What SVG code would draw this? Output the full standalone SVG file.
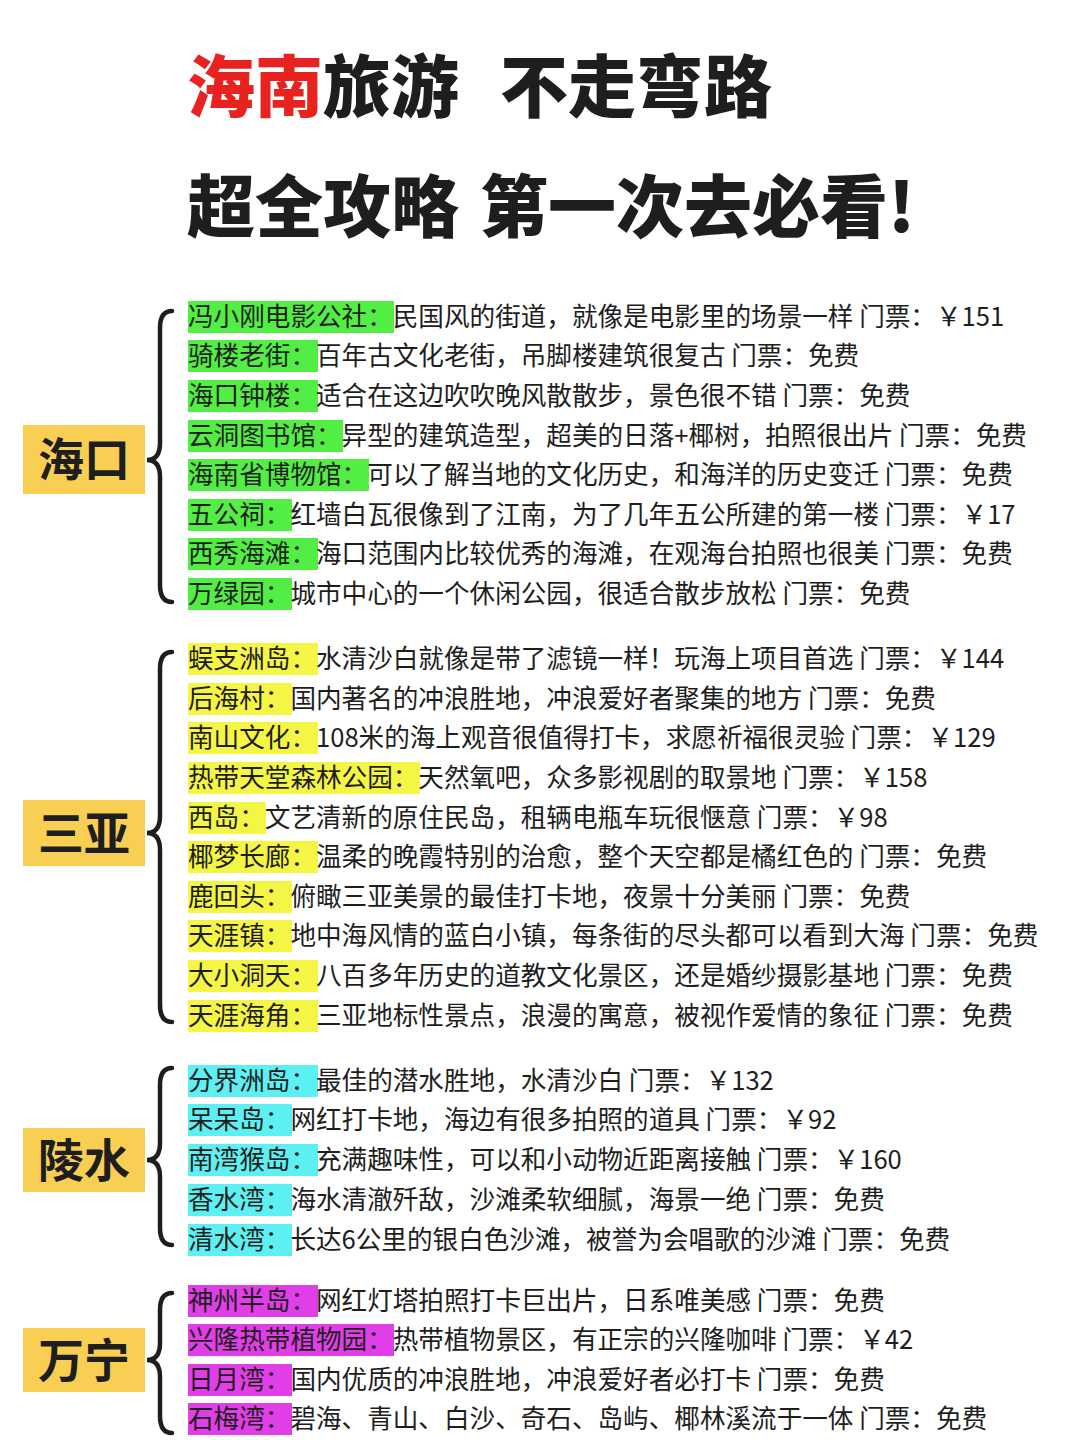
<svg xmlns="http://www.w3.org/2000/svg" width="1080" height="1440" viewBox="0 0 1080 1440">
<style>
text{font-family:"Noto Sans CJK SC","Noto Sans",sans-serif;fill:#1e1e1e}
.t{font-size:68px;font-weight:900}
.r{font-size:25.6px}
.g{fill:#52ee44}.y{fill:#f5f545}.c{fill:#5cf0f2}.m{fill:#e03ee6}
.lb{fill:#f8cf52}
.city{font-size:46px;font-weight:700}
.br{fill:none;stroke:#1e1e1e;stroke-width:4.5;stroke-linecap:round}
</style>
<rect width="1080" height="1440" fill="#fff"/>
<g id="title">
<text class="t" x="187" y="112"><tspan fill="#e8231f">海南</tspan>旅游</text>
<text class="t" x="500" y="112">不走弯路</text>
<text class="t" x="187" y="232">超全攻略</text>
<text class="t" x="480" y="232">第一次去必看!</text>
</g>
<g id="connectors">
<path class="br" d="M172 311 Q160 311 160 328 L160 443 Q160 460 147 460 Q160 460 160 477 L160 585 Q160 602 172 602"/>
<path class="br" d="M172 652 Q160 652 160 669 L160 816 Q160 833 147 833 Q160 833 160 850 L160 1005 Q160 1022 172 1022"/>
<path class="br" d="M172 1068 Q160 1068 160 1085 L160 1143 Q160 1160 147 1160 Q160 1160 160 1177 L160 1228 Q160 1245 172 1245"/>
<path class="br" d="M172 1293 Q160 1293 160 1310 L160 1343 Q160 1360 147 1360 Q160 1360 160 1377 L160 1416 Q160 1433 172 1433"/>
</g>
<g id="haikou">
<rect class="lb" x="23" y="425" width="122" height="69"/><text class="city" x="84" y="476" text-anchor="middle">海口</text>
<rect class="g" x="188" y="301" width="206" height="32"/><text class="r" x="188" y="326">冯小刚电影公社：民国风的街道，就像是电影里的场景一样 门票：￥151</text>
<rect class="g" x="188" y="340" width="130" height="32"/><text class="r" x="188" y="365">骑楼老街：百年古文化老街，吊脚楼建筑很复古 门票：免费</text>
<rect class="g" x="188" y="380" width="130" height="32"/><text class="r" x="188" y="405">海口钟楼：适合在这边吹吹晚风散散步，景色很不错 门票：免费</text>
<rect class="g" x="188" y="420" width="155" height="32"/><text class="r" x="188" y="445">云洞图书馆：异型的建筑造型，超美的日落+椰树，拍照很出片 门票：免费</text>
<rect class="g" x="188" y="459" width="181" height="32"/><text class="r" x="188" y="484">海南省博物馆：可以了解当地的文化历史，和海洋的历史变迁 门票：免费</text>
<rect class="g" x="188" y="499" width="104" height="32"/><text class="r" x="188" y="524">五公祠：红墙白瓦很像到了江南，为了几年五公所建的第一楼 门票：￥17</text>
<rect class="g" x="188" y="538" width="130" height="32"/><text class="r" x="188" y="563">西秀海滩：海口范围内比较优秀的海滩，在观海台拍照也很美 门票：免费</text>
<rect class="g" x="188" y="578" width="104" height="32"/><text class="r" x="188" y="603">万绿园：城市中心的一个休闲公园，很适合散步放松 门票：免费</text>
</g>
<g id="sanya">
<rect class="lb" x="23" y="800" width="122" height="66"/><text class="city" x="84" y="850" text-anchor="middle">三亚</text>
<rect class="y" x="188" y="643" width="130" height="32"/><text class="r" x="188" y="668">蜈支洲岛：水清沙白就像是带了滤镜一样！玩海上项目首选  门票：￥144</text>
<rect class="y" x="188" y="683" width="104" height="32"/><text class="r" x="188" y="708">后海村：国内著名的冲浪胜地，冲浪爱好者聚集的地方 门票：免费</text>
<rect class="y" x="188" y="722" width="130" height="32"/><text class="r" x="188" y="747">南山文化：108米的海上观音很值得打卡，求愿祈福很灵验 门票：￥129</text>
<rect class="y" x="188" y="762" width="232" height="32"/><text class="r" x="188" y="787">热带天堂森林公园：天然氧吧，众多影视剧的取景地 门票：￥158</text>
<rect class="y" x="188" y="802" width="78" height="32"/><text class="r" x="188" y="827">西岛：文艺清新的原住民岛，租辆电瓶车玩很惬意 门票：￥98</text>
<rect class="y" x="188" y="841" width="130" height="32"/><text class="r" x="188" y="866">椰梦长廊：温柔的晚霞特别的治愈，整个天空都是橘红色的 门票：免费</text>
<rect class="y" x="188" y="881" width="104" height="32"/><text class="r" x="188" y="906">鹿回头：俯瞰三亚美景的最佳打卡地，夜景十分美丽 门票：免费</text>
<rect class="y" x="188" y="920" width="104" height="32"/><text class="r" x="188" y="945">天涯镇：地中海风情的蓝白小镇，每条街的尽头都可以看到大海 门票：免费</text>
<rect class="y" x="188" y="960" width="130" height="32"/><text class="r" x="188" y="985">大小洞天：八百多年历史的道教文化景区，还是婚纱摄影基地 门票：免费</text>
<rect class="y" x="188" y="1000" width="130" height="32"/><text class="r" x="188" y="1025">天涯海角：三亚地标性景点，浪漫的寓意，被视作爱情的象征 门票：免费</text>
</g>
<g id="lingshui">
<rect class="lb" x="23" y="1128" width="122" height="64"/><text class="city" x="84" y="1177" text-anchor="middle">陵水</text>
<rect class="c" x="188" y="1065" width="130" height="32"/><text class="r" x="188" y="1090">分界洲岛：最佳的潜水胜地，水清沙白 门票：￥132</text>
<rect class="c" x="188" y="1104" width="104" height="32"/><text class="r" x="188" y="1129">呆呆岛：网红打卡地，海边有很多拍照的道具  门票：￥92</text>
<rect class="c" x="188" y="1144" width="130" height="32"/><text class="r" x="188" y="1169">南湾猴岛：充满趣味性，可以和小动物近距离接触 门票：￥160</text>
<rect class="c" x="188" y="1184" width="104" height="32"/><text class="r" x="188" y="1209">香水湾：海水清澈歼敌，沙滩柔软细腻，海景一绝 门票：免费</text>
<rect class="c" x="188" y="1224" width="104" height="32"/><text class="r" x="188" y="1249">清水湾：长达6公里的银白色沙滩，被誉为会唱歌的沙滩 门票：免费</text>
</g>
<g id="wanning">
<rect class="lb" x="23" y="1328" width="122" height="64"/><text class="city" x="84" y="1377" text-anchor="middle">万宁</text>
<rect class="m" x="188" y="1285" width="130" height="32"/><text class="r" x="188" y="1310">神州半岛：网红灯塔拍照打卡巨出片，日系唯美感  门票：免费</text>
<rect class="m" x="188" y="1324" width="206" height="32"/><text class="r" x="188" y="1349">兴隆热带植物园：热带植物景区，有正宗的兴隆咖啡  门票：￥42</text>
<rect class="m" x="188" y="1364" width="104" height="32"/><text class="r" x="188" y="1389">日月湾：国内优质的冲浪胜地，冲浪爱好者必打卡 门票：免费</text>
<rect class="m" x="188" y="1403" width="104" height="32"/><text class="r" x="188" y="1428">石梅湾：碧海、青山、白沙、奇石、岛屿、椰林溪流于一体 门票：免费</text>
</g>
</svg>
